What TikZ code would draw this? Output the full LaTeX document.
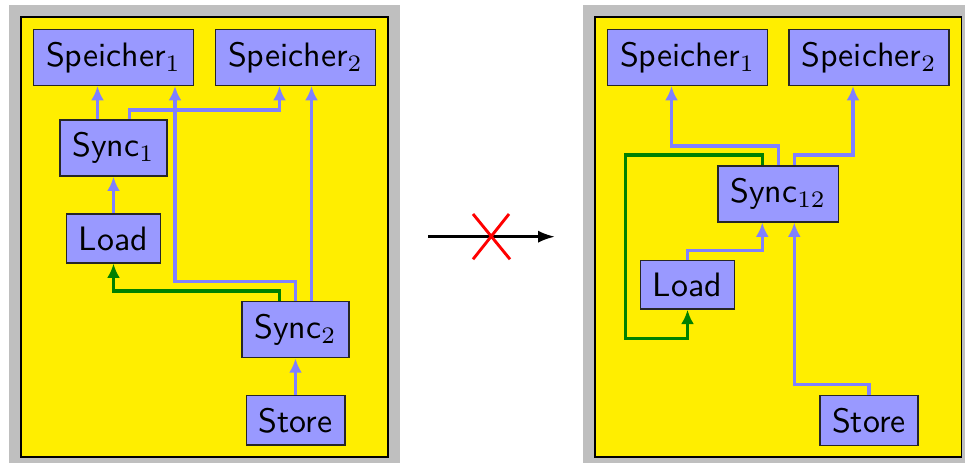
\documentclass[tikz,border=0pt]{standalone}
\usetikzlibrary{arrows.meta}
\definecolor{bgyellow}{RGB}{255,238,0}
\definecolor{nodefill}{RGB}{153,153,255}
\definecolor{connblue}{RGB}{128,128,255}
\definecolor{framegray}{RGB}{191,191,191}
\definecolor{conngreen}{RGB}{0,128,0}
\begin{document}
\begin{tikzpicture}[x=0.295pt,y=-0.295pt,
  box/.style={draw=black!85,line width=0.45pt,fill=nodefill,inner sep=3.65pt,
    font=\normalsize\sffamily},
  flow/.style={draw=connblue,line width=0.95pt,-{Latex[length=4.2pt,width=3.8pt]}},
  gflow/.style={draw=conngreen,line width=0.95pt,-{Latex[length=4.2pt,width=3.8pt]}},
  outer/.style={fill=framegray},
  panel/.style={fill=bgyellow,draw=black,line width=0.45pt},
  bigarrow/.style={draw=black,line width=0.8pt,-{Latex[length=5pt,width=3.6pt]}},
  cross/.style={draw=red,line width=0.85pt}]
\clip (0,0) rectangle (965,463);
\useasboundingbox (0,0) rectangle (965,463);
% frames
\fill[outer] (9,5) rectangle (400,475);
\filldraw[panel] (21,17) rectangle (388,457);
\fill[outer] (583,5) rectangle (980,475);
\filldraw[panel] (595,17) rectangle (961.7,457);
% left panel nodes
\node[box] (lsp1) at (113.5,57.5) {Speicher$_1$};
\node[box] (lsp2) at (295.5,57.5) {Speicher$_2$};
\node[box] (ls1) at (113.5,148) {Sync$_1$};
\node[box] (lload) at (113.5,238.5) {Load};
\node[box] (ls2) at (295.5,329.7) {Sync$_2$};
\node[box] (lst) at (295.5,420.3) {Store};
% left connectors
\draw[flow] ([shift={(-16,0)}]ls1.north) -- ([shift={(-16,0)}]lsp1.south);
\draw[flow] ([shift={(16,0)}]ls1.north) -- ++(0,-9.3) -| ([shift={(-16,0)}]lsp2.south);
\draw[flow] (ls2.north) -- ++(0,-19.4) -| ([shift={(61.5,0)}]lsp1.south);
\draw[flow] ([shift={(16,0)}]ls2.north) -- ([shift={(16,0)}]lsp2.south);
\draw[gflow] ([shift={(-16,0)}]ls2.north) -- ++(0,-10) -| (lload.south);
\draw[flow] (lload.north) -- (ls1.south);
\draw[flow] (lst.north) -- (ls2.south);
% right panel nodes
\node[box] (rsp1) at (687.5,57.5) {Speicher$_1$};
\node[box] (rsp2) at (869,57.5) {Speicher$_2$};
\node[box] (rs12) at (778.3,193.8) {Sync$_{12}$};
\node[box] (rload) at (687.5,284.7) {Load};
\node[box] (rst) at (869,420.5) {Store};
% right connectors
\draw[flow] (rs12.north) -- ++(0,-19) -| ([shift={(-16,0)}]rsp1.south);
\draw[flow] ([shift={(16,0)}]rs12.north) -- ++(0,-10) -| ([shift={(-16,0)}]rsp2.south);
\draw[gflow] ([shift={(-16,0)}]rs12.north) -- ++(0,-10) -| ([shift={(-62,29)}]rload.south) -| (rload.south);
\draw[flow] (rload.north) -- ++(0,-9.3) -| ([shift={(-16,0)}]rs12.south);
\draw[flow] (rst.north) -- ++(0,-10) -| ([shift={(16,0)}]rs12.south);
% middle arrow with cross
\coordinate (ma) at (428,236.7);
\coordinate (mb) at (555,236.7);
\draw[bigarrow] (ma) -- (mb);
\draw[cross] (473,214) -- (510,259.3) (509,214) -- (473,259.3);
\end{tikzpicture}
\end{document}
